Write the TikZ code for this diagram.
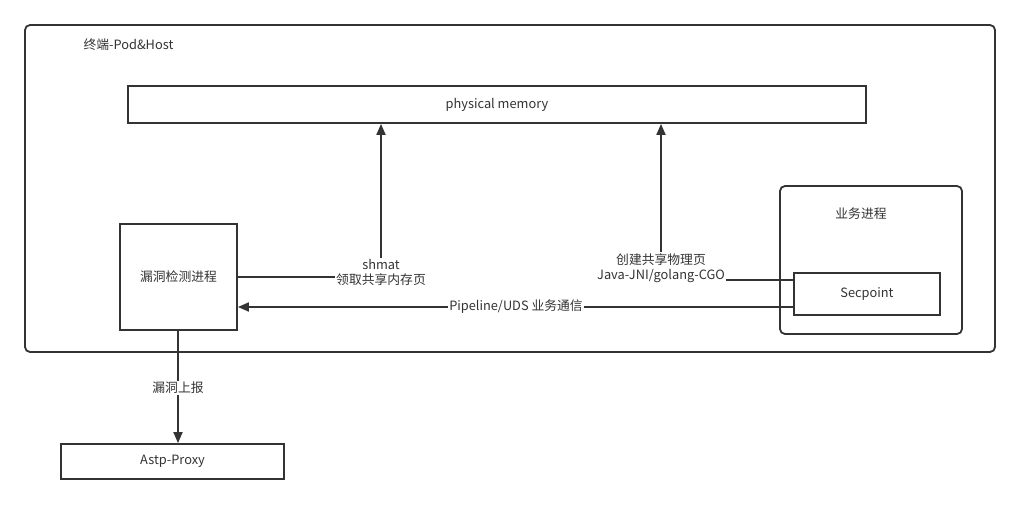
\documentclass[tikz,border=0pt]{standalone}
\usepackage{fontspec}
\setmainfont{Noto Sans CJK SC}
\usetikzlibrary{arrows.meta}
\definecolor{ln}{HTML}{333333}
\definecolor{tx}{HTML}{333333}
\begin{document}
\begin{tikzpicture}[x=1pt,y=-1pt,
  font=\fontsize{12.8}{15}\selectfont,
  box/.style={draw=ln,line width=1.8pt,fill=white,text=tx},
  rbox/.style={draw=ln,line width=1.8pt,rounded corners=5pt},
  conn/.style={draw=ln,line width=1.8pt},
  arr/.style={conn,-{Triangle[length=11pt,width=9pt]}},
  lbl/.style={fill=white,text=tx,inner sep=1pt,align=center,font=\fontsize{12.8}{15}\selectfont}]
\useasboundingbox (0,0) rectangle (1020,504);
\fill[white] (0,0) rectangle (1020,504);
\draw[rbox] (25,25) rectangle (995,352);
\node[text=tx,anchor=west] (title) at (80,45) {终端-Pod\&Host};
\node[box,minimum width=738pt,minimum height=37pt] (mem) at (497,104.5) {physical memory};
\node[box,minimum width=117pt,minimum height=106pt] (vuln) at (178.5,277) {漏洞检测进程};
\draw[rbox] (780,186) rectangle (962,334);
\node[text=tx] (biz) at (861,214) {业务进程};
\node[box,minimum width=146pt,minimum height=42pt] (sec) at (867,294) {Secpoint};
\node[box,minimum width=223pt,minimum height=35pt] (astp) at (172.5,461.5) {Astp-Proxy};
% shmat
\coordinate (c1) at (381,277);
\draw[conn] (vuln.east |- c1) -- (c1);
\draw[arr] (c1) -- (c1 |- mem.south);
\node[lbl] (l1) at (381,272) {shmat\\领取共享内存页};
% create
\coordinate (c2) at (661,280);
\draw[conn] (sec.west |- c2) -- (c2);
\draw[arr] (c2) -- (c2 |- mem.south);
\node[lbl] (l2) at (661,268) {创建共享物理页\\Java-JNI/golang-CGO};
% pipeline
\coordinate (c3) at (794,307);
\draw[arr] (sec.west |- c3) -- (vuln.east |- c3);
\node[lbl] (l3) at (516,307) {Pipeline/UDS 业务通信};
% report
\draw[arr] (vuln.south -| 178,0) -- (astp.north -| 178,0);
\node[lbl] (l4) at (178,388) {漏洞上报};
\end{tikzpicture}
\end{document}
